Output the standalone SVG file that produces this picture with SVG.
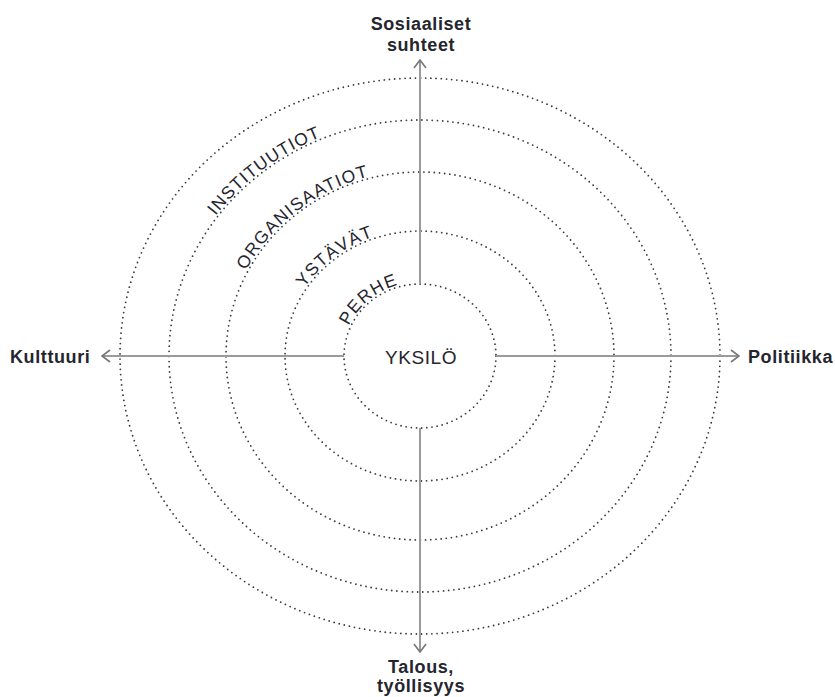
<svg xmlns="http://www.w3.org/2000/svg" width="835" height="697" viewBox="0 0 835 697">
<defs>
<style>
.ring{fill:none;stroke:#3a3a3a;stroke-width:1.8;stroke-dasharray:0 5.2;stroke-linecap:round}
.axis{fill:none;stroke:#9a9a9a;stroke-width:2}
.lbl{font-family:"Liberation Sans",Arial,sans-serif;font-size:18px;font-weight:bold;fill:#25252e;letter-spacing:0.6px}
.ring-lbl{font-family:"Liberation Sans",Arial,sans-serif;font-size:17.5px;fill:#25252e}
</style>
<marker id="arr" viewBox="0 0 10 14" refX="9" refY="7" markerWidth="10" markerHeight="14" markerUnits="userSpaceOnUse" orient="auto">
<polyline points="1,1 9,7 1,13" fill="none" stroke="#777" stroke-width="1.6"/>
</marker>
<path id="p1" d="M348.7,325.9 A78,74 0 0 1 420,282"/>
<path id="p2" d="M304.5,287.8 A137,127 0 0 1 420,229"/>
<path id="p3" d="M246,270.4 A196,186 0 0 1 420,170"/>
<path id="p4" d="M215.6,215.8 A253,238 0 0 1 420,118"/>
</defs>
<g id="rings">
<ellipse class="ring" cx="420" cy="356" rx="76" ry="72"/>
<ellipse class="ring" cx="420" cy="356" rx="135" ry="125"/>
<ellipse class="ring" cx="420" cy="356" rx="194" ry="184"/>
<ellipse class="ring" cx="420" cy="356" rx="251" ry="236"/>
<ellipse class="ring" cx="420" cy="356" rx="300" ry="278"/>
</g>
<g id="connectors">
<line class="axis" x1="420" y1="284" x2="420" y2="60" marker-end="url(#arr)"/>
<line class="axis" x1="420" y1="428" x2="420" y2="652" marker-end="url(#arr)"/>
<line class="axis" x1="344" y1="356" x2="102" y2="356" marker-end="url(#arr)"/>
<line class="axis" x1="496" y1="356" x2="739" y2="356" marker-end="url(#arr)"/>
</g>
<g id="node-yksilo"><text x="421" y="364" text-anchor="middle" class="ring-lbl" style="font-size:19px;letter-spacing:0.6px">YKSILÖ</text></g>
<g id="node-perhe"><text class="ring-lbl" style="letter-spacing:1.3px"><textPath href="#p1">PERHE</textPath></text></g>
<g id="node-ystavat"><text class="ring-lbl" style="letter-spacing:1.2px"><textPath href="#p2">YSTÄVÄT</textPath></text></g>
<g id="node-organisaatiot"><text class="ring-lbl" style="letter-spacing:1.3px"><textPath href="#p3">ORGANISAATIOT</textPath></text></g>
<g id="node-instituutiot"><text class="ring-lbl" style="letter-spacing:1.1px"><textPath href="#p4">INSTITUUTIOT</textPath></text></g>
<g id="node-sosiaaliset"><text class="lbl" x="421" y="30" text-anchor="middle">Sosiaaliset</text><text class="lbl" x="421" y="51" text-anchor="middle">suhteet</text></g>
<g id="node-talous"><text class="lbl" x="421" y="673" text-anchor="middle">Talous,</text><text class="lbl" x="421" y="692" text-anchor="middle">työllisyys</text></g>
<g id="node-kulttuuri"><text class="lbl" x="10" y="363">Kulttuuri</text></g>
<g id="node-politiikka"><text class="lbl" x="748" y="363">Politiikka</text></g>
</svg>
